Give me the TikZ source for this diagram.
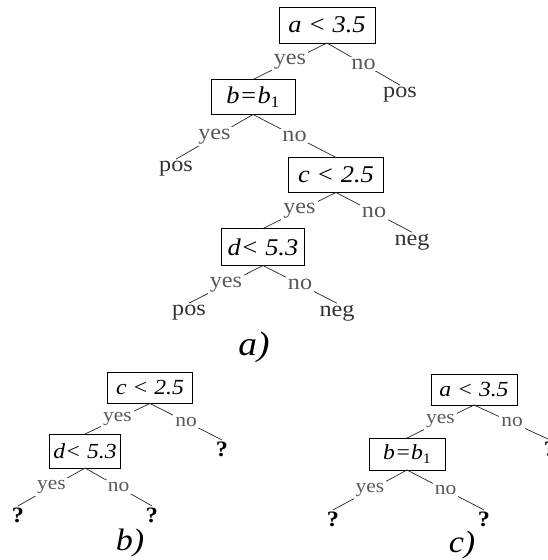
\documentclass[tikz,border=0pt]{standalone}
\usepackage{fontspec}
\setmainfont{Liberation Serif}[FakeStretch=1.1]
\newcommand\subone[1]{\raisebox{-0.35ex}{\fontsize{#1}{#1}\selectfont\upshape 1}}
\begin{document}
\begin{tikzpicture}[x=1pt,y=-1pt,
  every node/.style={inner sep=0pt, outer sep=0pt},
  cond/.style={draw, line width=0.9pt, font=\fontsize{24}{26}\selectfont\itshape},
  condS/.style={draw, line width=0.9pt, font=\fontsize{21.5}{23}\selectfont\itshape},
  leaf/.style={font=\fontsize{22}{24}\selectfont, text=black!80, inner sep=1.5pt, anchor=base},
  qm/.style={font=\fontsize{22}{24}\selectfont\bfseries, inner sep=1.5pt, anchor=base},
  edge/.style={draw, line width=0.7pt, black!85},
  elbl/.style={fill=white, font=\fontsize{22}{24}\selectfont, text=black!65, inner sep=2pt},
  elblS/.style={fill=white, font=\fontsize{19.5}{21}\selectfont, text=black!65, inner sep=2pt},
  captxt/.style={font=\fontsize{34}{36}\selectfont\itshape, anchor=base},
  captxtS/.style={font=\fontsize{31}{33}\selectfont\itshape, anchor=base}
]
\useasboundingbox[fill=white] (0,0) rectangle (547,560);

% ---- tree a)
\node[cond, minimum width=96pt, minimum height=36pt] (A) at (327,25) {a < 3.5};
\node[leaf] (Ap) at (400,97) {pos};
\node[cond, minimum width=84pt, minimum height=35pt] (B) at (253,97) {b=b\subone{16}};
\node[leaf] (Bp) at (176,171) {pos};
\node[cond, minimum width=95pt, minimum height=35pt] (C) at (336,175) {c < 2.5};
\node[leaf] (Cn) at (412,245) {neg};
\node[cond, minimum width=83pt, minimum height=37pt] (D) at (263,247) {d< 5.3};
\node[leaf] (Dp) at (189,315) {pos};
\node[leaf] (Dn) at (337,316) {neg};
\node[captxt] (la) at (254,355) {a)};

\path[edge] (A.south) -- node[elbl] {yes} (B.north);
\path[edge] (A.south) -- node[elbl] {no} (Ap.north);
\path[edge] (B.south) -- node[elbl] {yes} (Bp.north);
\path[edge] (B.south) -- node[elbl] {no} (C.north);
\path[edge] (C.south) -- node[elbl] {yes} (D.north);
\path[edge] (C.south) -- node[elbl] {no} (Cn.north);
\path[edge] (D.south) -- node[elbl] {yes} (Dp.north);
\path[edge] (D.south) -- node[elbl] {no} (Dn.north);

% ---- tree b)
\node[condS, minimum width=85pt, minimum height=31pt] (bC) at (150,388) {c < 2.5};
\node[condS, minimum width=71pt, minimum height=34pt] (bD) at (85,451) {d< 5.3};
\node[qm] (bq1) at (222,456) {?};
\node[qm] (bq2) at (18,522) {?};
\node[qm] (bq3) at (152,522) {?};
\node[captxtS] (lb) at (130,550) {b)};

\path[edge] (bC.south) -- node[elblS] {yes} (bD.north);
\path[edge] (bC.south) -- node[elblS] {no} (bq1.north);
\path[edge] (bD.south) -- node[elblS] {yes} (bq2.north);
\path[edge] (bD.south) -- node[elblS] {no} (bq3.north);

% ---- tree c)
\node[condS, minimum width=86pt, minimum height=31pt] (cA) at (474,389.5) {a < 3.5};
\node[condS, minimum width=76pt, minimum height=32pt] (cB) at (407,454) {b=b\subone{14.5}};
\node[qm] (cq1) at (550,456) {?};
\node[qm] (cq2) at (333,526) {?};
\node[qm] (cq3) at (484,526) {?};
\node[captxtS] (lc) at (462,552) {c)};

\path[edge] (cA.south) -- node[elblS] {yes} (cB.north);
\path[edge] (cA.south) -- node[elblS] {no} (cq1.north);
\path[edge] (cB.south) -- node[elblS] {yes} (cq2.north);
\path[edge] (cB.south) -- node[elblS] {no} (cq3.north);
\end{tikzpicture}
\end{document}
